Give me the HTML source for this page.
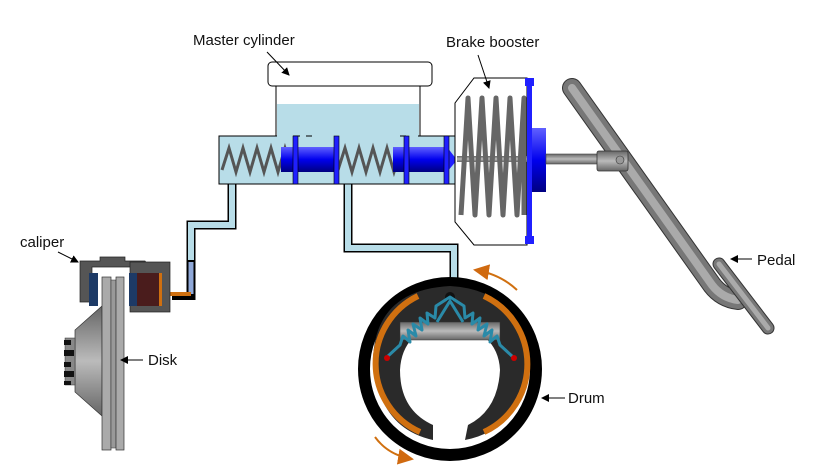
<!DOCTYPE html>
<html><head><meta charset="utf-8"><style>body{margin:0;background:#fff}svg{display:block}text{font-family:"Liberation Sans",sans-serif;font-size:15px;fill:#111}</style></head><body>
<svg width="832" height="472" viewBox="0 0 832 472" xmlns="http://www.w3.org/2000/svg">
<defs>
<linearGradient id="bl" x1="0" y1="0" x2="0" y2="1"><stop offset="0" stop-color="#6060ff"/><stop offset=".5" stop-color="#0000ee"/><stop offset="1" stop-color="#000080"/></linearGradient>
<linearGradient id="gr2" x1="0" y1="0" x2="0" y2="1"><stop offset="0" stop-color="#666"/><stop offset=".5" stop-color="#bbb"/><stop offset="1" stop-color="#666"/></linearGradient>
<marker id="ar" markerWidth="8" markerHeight="8" refX="7" refY="4" orient="auto"><path d="M0,0 L8,4 L0,8z" fill="#000"/></marker>
<marker id="ao" markerWidth="8" markerHeight="8" refX="7" refY="4" orient="auto"><path d="M0,0 L8,4 L0,8z" fill="#d06a10"/></marker>
</defs>
<!-- pipes -->
<path d="M232,184 V225 H191 V300" fill="none" stroke="#000" stroke-width="9"/>
<path d="M232,184 V225 H191 V300" fill="none" stroke="#b8dde8" stroke-width="6"/>
<path d="M191,260 V296 H172" fill="none" stroke="#000" stroke-width="8"/>
<path d="M191,262 V294" stroke="#8fa8d8" stroke-width="5"/>
<path d="M191,294 H170" stroke="#d07010" stroke-width="4"/>
<path d="M348,184 V248 H454 V278" fill="none" stroke="#000" stroke-width="9"/>
<path d="M348,184 V248 H454 V278" fill="none" stroke="#b8dde8" stroke-width="6"/>
<!-- reservoir -->
<rect x="276" y="84" width="144" height="54" fill="#fff" stroke="#000"/>
<rect x="277" y="104" width="142" height="34" fill="#b8dde8"/>
<rect x="268" y="62" width="164" height="24" rx="4" fill="#fff" stroke="#000"/>
<!-- cylinder -->
<rect x="219" y="136" width="236" height="48" fill="#b8dde8" stroke="#000"/>
<path d="M277,136 H293 M300,136 H306 M312,136 H400 M406,136 H418" stroke="#b8dde8" stroke-width="2"/>
<polyline points="222,170 229,148 236,172 243,148 250,172 257,148 264,172 271,148 278,172 285,148 292,170" fill="none" stroke="#555" stroke-width="3"/>
<polyline points="338,170 345,148 352,172 359,148 366,172 373,148 380,172 387,148 394,172 401,150" fill="none" stroke="#555" stroke-width="3"/>
<rect x="281" y="147" width="56" height="25" fill="url(#bl)"/>
<rect x="393" y="147" width="54" height="25" fill="url(#bl)"/>
<path d="M447,147 L457,160 L447,172z" fill="#2020ff"/>
<rect x="293" y="136" width="5" height="48" fill="#2020ff" stroke="#000" stroke-width=".6"/>
<rect x="334" y="136" width="5" height="48" fill="#2020ff" stroke="#000" stroke-width=".6"/>
<rect x="404" y="136" width="5" height="48" fill="#2020ff" stroke="#000" stroke-width=".6"/>
<rect x="444" y="136" width="5" height="48" fill="#2020ff" stroke="#000" stroke-width=".6"/>
<!-- booster -->
<path d="M455,103 L474,78 L527,78 L527,245 L474,245 L455,222z" fill="#fff" stroke="#000"/>
<rect x="457" y="156" width="100" height="6" fill="url(#gr2)"/>
<polyline points="461,215 468,98 475,215 482,98 489,215 496,98 503,215 510,98 517,215 524,98 524,215" fill="none" stroke="#666" stroke-width="5" stroke-linejoin="round"/>
<rect x="527" y="80" width="5" height="163" fill="#2020ff"/>
<rect x="525" y="78" width="9" height="8" fill="#2020ff"/><rect x="525" y="236" width="9" height="8" fill="#2020ff"/>
<rect x="532" y="128" width="14" height="64" fill="url(#bl)"/>
<rect x="546" y="154" width="56" height="10" fill="url(#gr2)" stroke="#444" stroke-width=".6"/>
<!-- pedal -->
<g fill="none" stroke-linecap="round" stroke-linejoin="round">
<path d="M572,88 L712,285 Q722,298 738,300" stroke="#333" stroke-width="20"/>
<path d="M572,88 L712,285 Q722,298 738,300" stroke="#777" stroke-width="18"/>
<path d="M572,88 L712,285 Q722,298 738,300" stroke="#aaa" stroke-width="8"/>
<path d="M719,264 L768,328" stroke="#333" stroke-width="13"/>
<path d="M719,264 L768,328" stroke="#777" stroke-width="11"/>
<path d="M719,264 L768,328" stroke="#aaa" stroke-width="5"/>
</g>
<rect x="597" y="151" width="31" height="20" rx="2" fill="url(#gr2)" stroke="#333" stroke-width=".8"/>
<circle cx="620" cy="160" r="4" fill="#999" stroke="#333" stroke-width=".6"/>
<!-- disk brake -->
<path d="M102,306 L75,330 L75,392 L102,416z" fill="url(#gr2)" stroke="#333" stroke-width=".7"/>
<rect x="65" y="338" width="10" height="47" fill="#888" stroke="#333" stroke-width=".5"/>
<rect x="64" y="340" width="7" height="5" fill="#111"/><rect x="64" y="350" width="10" height="6" fill="#111"/><rect x="64" y="362" width="7" height="5" fill="#111"/><rect x="64" y="371" width="10" height="6" fill="#111"/><rect x="64" y="381" width="7" height="4" fill="#111"/>
<rect x="102" y="277" width="9" height="173" fill="#aaa" stroke="#333" stroke-width=".7"/>
<rect x="111" y="280" width="5" height="168" fill="#999" stroke="#333" stroke-width=".5"/>
<rect x="116" y="277" width="8" height="173" fill="#aaa" stroke="#333" stroke-width=".7"/>
<path d="M80,261 H100 V257 H125 V261 H145 L149,267 H92 V302 H80z" fill="#555" stroke="#222" stroke-width=".7"/>
<rect x="89" y="273" width="9" height="33" fill="#1d3a66"/>
<rect x="130" y="262" width="40" height="50" fill="#555" stroke="#222" stroke-width=".7"/>
<rect x="129" y="273" width="8" height="33" fill="#1d3a66"/>
<rect x="137" y="273" width="22" height="33" fill="#4a1c1c"/>
<rect x="159" y="273" width="3" height="33" fill="#d07010"/>
<!-- drum -->
<circle cx="450" cy="369" r="86" fill="none" stroke="#000" stroke-width="12"/>
<path d="M433,440 L433,425 Q400,410 400,370 Q402,330 447,322 Q498,330 500,370 Q498,410 468,425 L465,440 Q520,430 527,360 Q520,290 450,286 Q375,290 373,360 Q378,428 433,440z" fill="#2a2a2a"/>
<path d="M418,296 A75,75 0 0 0 420,432" fill="none" stroke="#d07010" stroke-width="6"/>
<path d="M484,296 A75,75 0 0 1 484,432" fill="none" stroke="#d07010" stroke-width="6"/>
<rect x="400" y="322" width="100" height="18" fill="url(#gr2)" stroke="#333" stroke-width=".5"/>
<circle cx="450" cy="297" r="5" fill="#111"/>
<polyline points="387,357 400,345 403,336 410,342 408,330 416,336 413,324 422,330 420,318 428,324 427,313 435,318 436,306 450,297 464,306 465,318 473,313 472,324 480,318 478,330 487,324 484,336 492,330 490,342 497,336 500,345 513,357" fill="none" stroke="#2a8aa8" stroke-width="3" stroke-linejoin="round"/>
<path d="M437,322 L450,301 L463,322" fill="none" stroke="#2a8aa8" stroke-width="3"/>
<circle cx="387" cy="358" r="3" fill="#c00"/><circle cx="514" cy="358" r="3" fill="#c00"/>
<path d="M517,290 Q500,274 475,270" fill="none" stroke="#d07010" stroke-width="2" marker-end="url(#ao)"/>
<path d="M375,437 Q388,455 412,459" fill="none" stroke="#d07010" stroke-width="2" marker-end="url(#ao)"/>
<!-- labels -->
<text x="193" y="45">Master cylinder</text>
<line x1="267" y1="52" x2="289" y2="75" stroke="#000" marker-end="url(#ar)"/>
<text x="446" y="47">Brake booster</text>
<line x1="478" y1="55" x2="489" y2="88" stroke="#000" marker-end="url(#ar)"/>
<text x="20" y="247">caliper</text>
<line x1="58" y1="252" x2="78" y2="262" stroke="#000" marker-end="url(#ar)"/>
<text x="148" y="365">Disk</text>
<line x1="143" y1="360" x2="121" y2="360" stroke="#000" marker-end="url(#ar)"/>
<text x="568" y="403">Drum</text>
<line x1="565" y1="398" x2="542" y2="398" stroke="#000" marker-end="url(#ar)"/>
<text x="757" y="265">Pedal</text>
<line x1="752" y1="259" x2="731" y2="259" stroke="#000" marker-end="url(#ar)"/>
</svg>
</body></html>
